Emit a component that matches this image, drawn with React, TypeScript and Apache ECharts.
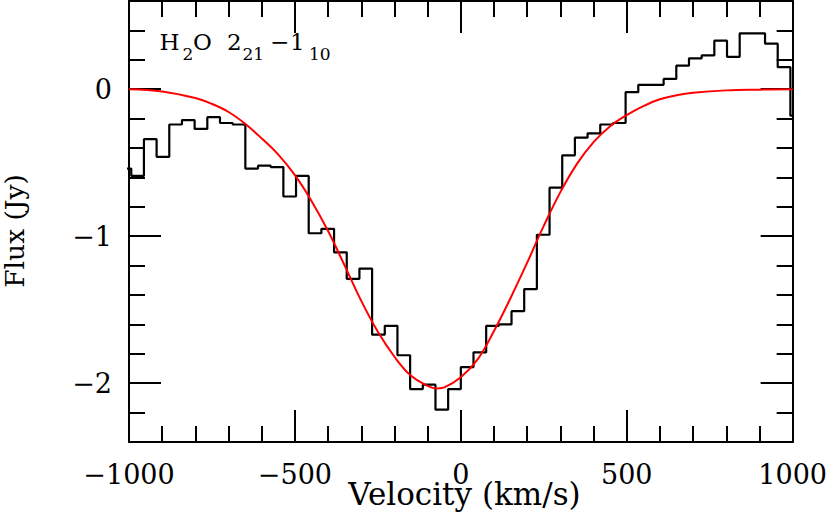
import React, { useEffect, useRef } from 'react';
import * as echarts from 'echarts';

// Channel left-edge velocities (km/s) of the observed spectrum
const channelVelocity = [
  -1031.4, -993.2, -955.0, -916.8, -878.6, -840.4, -802.2, -764.0, -725.8, -687.6,
  -649.4, -611.2, -573.0, -534.8, -496.6, -458.4, -420.2, -382.0, -343.8, -305.6,
  -267.4, -229.2, -191.0, -152.8, -114.6, -76.4, -38.2, 0.0, 38.2, 76.4,
  114.6, 152.8, 191.0, 229.2, 267.4, 305.6, 343.8, 382.0, 420.2, 458.4,
  496.6, 534.8, 573.0, 611.2, 649.4, 687.6, 725.8, 764.0, 802.2, 840.4,
  878.6, 916.8, 955.0, 993.2,
];
const channelEnd = 1031.4;
// Observed flux (Jy) per channel
const channelFlux = [
  -0.54, -0.59, -0.34, -0.46, -0.24, -0.21, -0.27, -0.19, -0.23, -0.24,
  -0.54, -0.52, -0.53, -0.73, -0.59, -0.98, -0.95, -1.11, -1.29, -1.22,
  -1.67, -1.61, -1.81, -2.04, -2.01, -2.18, -2.04, -1.89, -1.79, -1.61,
  -1.60, -1.51, -1.36, -0.99, -0.67, -0.45, -0.33, -0.30, -0.24, -0.23,
  -0.02, 0.03, 0.03, 0.07, 0.16, 0.21, 0.23, 0.33, 0.22, 0.38,
  0.38, 0.31, 0.15, -0.18,
];

// Fitted profile (red)
const fitVelocity = [
  -1000, -900, -800, -750, -700, -650, -600, -550, -500, -450, -400, -350, -300,
  -250, -200, -150, -100, -75, -50, 0, 50, 100, 150, 200, 250, 300, 350, 400,
  450, 500, 550, 600, 650, 700, 800, 900, 1000,
];
const fitFlux = [
  0.0, -0.015, -0.06, -0.1, -0.155, -0.235, -0.335, -0.445, -0.585, -0.76, -0.965,
  -1.2, -1.44, -1.65, -1.82, -1.95, -2.018, -2.036, -2.028, -1.96, -1.84, -1.645,
  -1.42, -1.18, -0.93, -0.7, -0.508, -0.36, -0.252, -0.176, -0.115, -0.068,
  -0.041, -0.024, -0.008, -0.003, 0.0,
];

const xTickLabels = [-1000, -500, 0, 500, 1000];
const yTickLabels = [-2, -1, 0];

const FONT = 'DejaVu Serif';
const fmt = (v: number) => (v < 0 ? '\u2212' + Math.abs(v) : String(v));

export default function App() {
  const ref = useRef<HTMLDivElement>(null);

  useEffect(() => {
    document.body.style.margin = '0';
    const chart = echarts.init(ref.current!, undefined, { renderer: 'svg' });

    const stepData: number[][] = channelVelocity.map((v, i) => [v, channelFlux[i]]);
    stepData.push([channelEnd, channelFlux[channelFlux.length - 1]]);
    const fitData = fitVelocity.map((v, i) => [v, fitFlux[i]]);

    const lineStyle = { color: '#000', width: 2 };

    const xBase = (pos: 'top' | 'bottom', labels: boolean) => ({
      type: 'value',
      position: pos,
      min: -1000,
      max: 1000,
      interval: 500,
      axisLine: { show: true, onZero: false, lineStyle },
      axisTick: { show: true, inside: true, length: 32, lineStyle },
      minorTick: { show: true, splitNumber: 5, length: 16, lineStyle },
      splitLine: { show: false },
      axisLabel: {
        show: labels,
        customValues: xTickLabels,
        margin: 19,
        fontSize: 27,
        fontFamily: FONT,
        color: '#000',
        formatter: (v: number) => fmt(v),
      },
    });

    const yMinor = (pos: 'left' | 'right', labels: boolean) => ({
      type: 'value',
      position: pos,
      min: -2.4,
      max: 0.6,
      interval: 0.2,
      axisLine: { show: true, onZero: false, lineStyle },
      axisTick: { show: true, inside: true, length: 16, lineStyle },
      splitLine: { show: false },
      axisLabel: {
        show: labels,
        customValues: yTickLabels,
        margin: 17,
        fontSize: 27,
        fontFamily: FONT,
        color: '#000',
        formatter: (v: number) => fmt(v),
      },
    });
    const yMajor = (pos: 'left' | 'right') => ({
      type: 'value',
      position: pos,
      min: -2.4,
      max: 0.6,
      interval: 0.2,
      axisLine: { show: false, onZero: false },
      axisTick: { show: true, inside: true, length: 32, customValues: yTickLabels, lineStyle },
      splitLine: { show: false },
      axisLabel: { show: false },
    });

    const txt = (text: string, x: number, y: number, size: number, align = 'left') => ({
      type: 'text',
      x,
      y,
      silent: true,
      style: {
        text,
        fontSize: size,
        fontFamily: FONT,
        fill: '#000',
        align,
        verticalAlign: 'middle',
      },
    });

    chart.setOption({
      animation: false,
      backgroundColor: '#fff',
      grid: { left: 129, right: 37, top: 1, bottom: 71, containLabel: false },
      xAxis: [xBase('bottom', true), xBase('top', false)],
      yAxis: [yMinor('left', true), yMajor('left'), yMinor('right', false), yMajor('right')],
      series: [
        {
          type: 'line',
          name: 'Observed',
          xAxisIndex: 0,
          yAxisIndex: 0,
          data: stepData,
          step: 'end',
          showSymbol: false,
          symbol: 'none',
          silent: true,
          lineStyle: { color: '#000', width: 2.2 },
          z: 2,
        },
        {
          type: 'line',
          name: 'Fit',
          xAxisIndex: 0,
          yAxisIndex: 0,
          data: fitData,
          smooth: 0.4,
          showSymbol: false,
          symbol: 'none',
          silent: true,
          lineStyle: { color: '#ff0000', width: 2 },
          z: 3,
        },
      ],
      graphic: [
        txt('H', 159.5, 42, 23),
        txt('2', 182.5, 54, 17),
        txt('O', 193, 42, 23),
        txt('2', 227, 42, 23),
        txt('21', 242.5, 54, 17),
        txt('\u2212', 270, 42, 23),
        txt('1', 290, 42, 23),
        txt('10', 309, 54, 17),
        txt('Velocity (km/s)', 464.5, 494, 31, 'center'),
        {
          ...txt('Flux (Jy)', 14, 231, 26.5, 'center'),
          rotation: Math.PI / 2,
        },
      ],
    });

    return () => chart.dispose();
  }, []);

  return (
    <div
      ref={ref}
      style={{ width: 830, height: 513, position: 'absolute', left: 0, top: 0, background: '#fff' }}
    />
  );
}
